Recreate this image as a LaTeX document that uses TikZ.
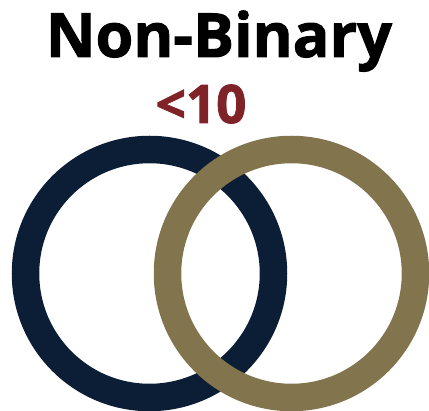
\documentclass[tikz,border=0pt]{standalone}
\usepackage{fontspec}
\setmainfont{Open Sans}[BoldFeatures={FakeBold=1.6}]
\usetikzlibrary{positioning}
\definecolor{navyclr}{RGB}{11,30,54}
\definecolor{goldclr}{RGB}{130,116,77}
\definecolor{cntclr}{RGB}{128,35,40}
\tikzset{
  %% heading text
  ttl/.style={font=\fontsize{61}{61}\selectfont\bfseries,text=black,inner sep=0pt,anchor=base},
  %% count label
  cnt/.style={font=\fontsize{53}{53}\selectfont\bfseries,text=cntclr,inner sep=0pt,anchor=base},
  %% ring outline
  ring/.style={draw=#1,line width=27.5pt,fill=none},
}
\begin{document}
\begin{tikzpicture}[x=1pt,y=1pt]
  \useasboundingbox (0,0) rectangle (429,-411);
  \node[ttl] (title) at (219,-57) {Non-Binary};
  \node[cnt] (count) at (201,-123) {<10};
  %% rings, gold drawn last so it sits on top
  \coordinate (ctrL) at (149.5,-273.5);
  \coordinate (ctrR) at (291.5,-273.5);
  \draw[ring=navyclr] (ctrL) circle[radius=124];
  \draw[ring=goldclr] (ctrR) circle[radius=124];
\end{tikzpicture}
\end{document}
